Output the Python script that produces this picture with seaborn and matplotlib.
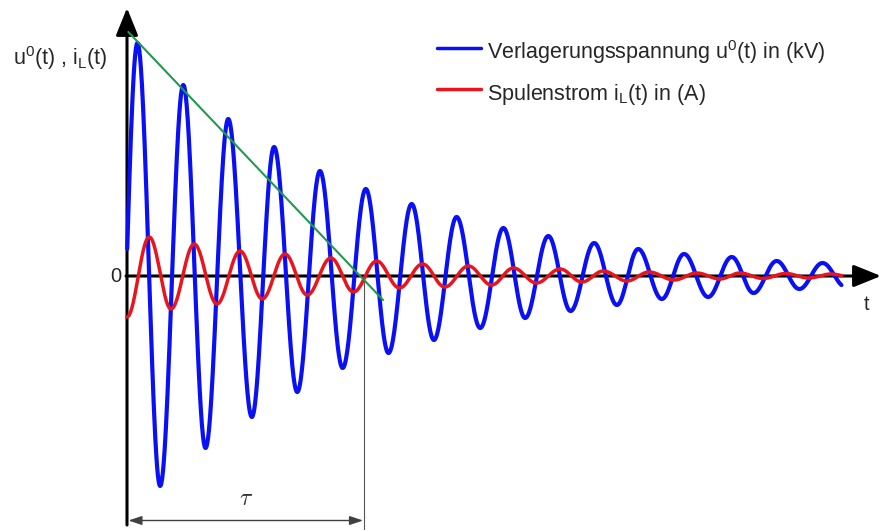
import numpy as np
import pandas as pd
import matplotlib
matplotlib.use("Agg")
import matplotlib.pyplot as plt
import seaborn as sns

# ---------------- data ----------------
# time in oscillation periods, values in relative units
# extrema (peaks / troughs) of the displacement voltage u0(t)
u_ext_t = [-0.27, 0.23, 0.73, 1.24, 1.73, 2.23, 2.75, 3.24, 3.75, 4.25, 4.75,
           5.26, 5.76, 6.27, 6.76, 7.26, 7.78, 8.29, 8.77, 9.28, 9.77, 10.29,
           10.79, 11.26, 11.78, 12.27, 12.80, 13.32, 13.80, 14.31, 14.81,
           15.32, 15.83]
u_ext_v = [-2.55, 2.33, -2.10, 1.91, -1.72, 1.57, -1.41, 1.29, -1.16, 1.05,
           -0.92, 0.87, -0.77, 0.72, -0.64, 0.59, -0.52, 0.48, -0.42, 0.40,
           -0.35, 0.33, -0.29, 0.27, -0.23, 0.22, -0.21, 0.19, -0.17, 0.15,
           -0.13, 0.13, -0.11]
# extrema of the coil current iL(t)
i_ext_t = [0.00, 0.49, 0.97, 1.48, 1.98, 2.49, 2.98, 3.48, 3.97, 4.49, 4.99,
           5.50, 6.00, 6.51, 7.00, 7.52, 8.03, 8.51, 9.02, 9.54, 10.02, 10.49,
           11.01, 11.50, 12.05, 12.55, 13.06, 13.50, 14.01, 14.51, 15.02,
           15.51, 16.02]
i_ext_v = [-0.41, 0.39, -0.33, 0.32, -0.28, 0.25, -0.23, 0.22, -0.19, 0.18,
           -0.16, 0.15, -0.12, 0.12, -0.11, 0.10, -0.09, 0.08, -0.07, 0.07,
           -0.06, 0.05, -0.05, 0.04, -0.04, 0.03, -0.03, 0.03, -0.025, 0.025,
           -0.02, 0.02, -0.02]
t_start = 0.0
t_end = 15.74
tau = 5.23
tangent_t = [0.03, 5.64]
tangent_v = [2.44, -0.24]

legend_labels = [r"Verlagerungsspannung u$^0$(t) in (kV)",
                 r"Spulenstrom i$_\mathrm{L}$(t) in (A)"]
y_label = r"u$^0$(t) , i$_\mathrm{L}$(t)"
x_label = "t"
zero_label = "0"
tau_label = r"$\tau$"

# ---------------- styling ----------------
sns.set_style("white")
plt.rcParams["font.family"] = ["Liberation Sans", "DejaVu Sans"]
plt.rcParams["mathtext.fontset"] = "custom"
plt.rcParams["mathtext.rm"] = "Liberation Sans"
plt.rcParams["mathtext.it"] = "Liberation Sans:italic"

W, H = 881, 530
fig = plt.figure(figsize=(W / 100, H / 100), dpi=100, facecolor="white")
ax = fig.add_axes([0, 0, 1, 1])
ax.set_axis_off()

# pixel -> data helpers (layout only)
X0, PER, Y0, SC = 127.0, 45.4, 276.0, 100.0
def P(px, py):
    return ((px - X0) / PER, (Y0 - py) / SC)

ax.set_xlim(P(0, 0)[0], P(W, 0)[0])
ax.set_ylim(P(0, H)[1], P(0, 0)[1])


def smooth_through_extrema(te, ve, t0, t1, n=60):
    ts, vs = [], []
    for k in range(len(te) - 1):
        s = np.linspace(0, 1, n, endpoint=False)
        ts.append(te[k] + (te[k + 1] - te[k]) * s)
        vs.append(ve[k] + (ve[k + 1] - ve[k]) * (1 - np.cos(np.pi * s)) / 2)
    ts.append([te[-1]])
    vs.append([ve[-1]])
    t = np.concatenate(ts)
    v = np.concatenate(vs)
    m = (t >= t0) & (t <= t1)
    return pd.DataFrame({"t": t[m], "v": v[m]})


u_df = smooth_through_extrema(u_ext_t, u_ext_v, t_start, t_end)
i_df = smooth_through_extrema(i_ext_t, i_ext_v, t_start, t_end)
g_df = pd.DataFrame({"t": tangent_t, "v": tangent_v})

BLUE = "#0a10f5"
RED = "#e8161c"
GREEN = "#1f9a4f"

# axes with arrows
ax.annotate("", xy=P(127, 8), xytext=P(127, 525), annotation_clip=False,
            arrowprops=dict(arrowstyle="-|>,head_length=0.42,head_width=0.17",
                            mutation_scale=40, lw=2.2, color="black",
                            shrinkA=0, shrinkB=0), zorder=1)
ax.annotate("", xy=P(881, 276), xytext=P(126, 276), annotation_clip=False,
            arrowprops=dict(arrowstyle="-|>,head_length=0.42,head_width=0.17",
                            mutation_scale=40, lw=2.2, color="black",
                            shrinkA=0, shrinkB=0), zorder=1)

# tau marker
ax.plot([tau, tau], [0, P(0, 530)[1]], color="#555555", lw=0.8, zorder=1)
ax.annotate("", xy=(tau, P(0, 520.5)[1]), xytext=(t_start, P(0, 520.5)[1]),
            arrowprops=dict(arrowstyle="<|-|>,head_length=0.45,head_width=0.15",
                            mutation_scale=18, lw=1.0, color="#404040",
                            shrinkA=1, shrinkB=1), zorder=1)
ax.text(tau / 2, P(0, 499)[1], tau_label, fontsize=17, ha="center",
        va="center", color="#333333", math_fontfamily="cm")

# curves
sns.lineplot(data=u_df, x="t", y="v", sort=False, estimator=None, color=BLUE,
             lw=3.0, ax=ax, legend=False, zorder=3, solid_capstyle="round")
sns.lineplot(data=i_df, x="t", y="v", sort=False, estimator=None, color=RED,
             lw=2.5, ax=ax, legend=False, zorder=4, solid_capstyle="round")
sns.lineplot(data=g_df, x="t", y="v", sort=False, estimator=None, color=GREEN,
             lw=1.5, ax=ax, legend=False, zorder=5)
ax.set_xlabel("")
ax.set_ylabel("")
ax.set_axis_off()

# labels
ax.text(*P(13, 65), y_label, fontsize=15.5, ha="left", va="baseline")
ax.text(*P(115.5, 276.5), zero_label, fontsize=14.5, ha="center", va="center")
ax.text(*P(866.5, 304), x_label, fontsize=14.5, ha="center", va="center")

# legend
for (col, ly, by, lab) in [(BLUE, 48.5, 59.5, legend_labels[0]),
                           (RED, 89.5, 100.5, legend_labels[1])]:
    ax.plot([P(437, 0)[0], P(481, 0)[0]], [P(0, ly)[1]] * 2, color=col, lw=2.5)
    ax.text(*P(487, by), lab, fontsize=15.5, ha="left", va="baseline")

fig.savefig("out.png", dpi=100, facecolor="white")
